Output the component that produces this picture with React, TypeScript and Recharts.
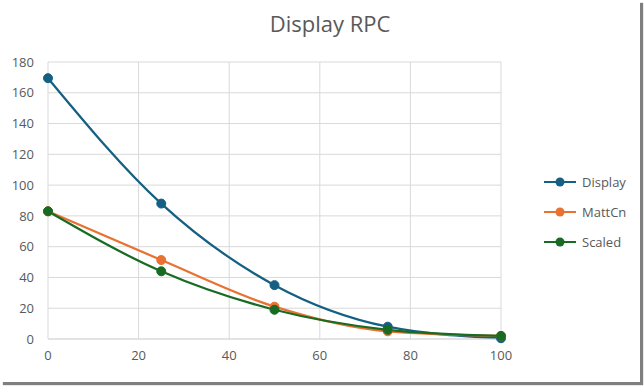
import { LineChart, Line, XAxis, YAxis, CartesianGrid, Legend } from "recharts";

const xValues = [0, 25, 50, 75, 100];
const displayValues = [169.5, 88, 35, 8, 0.5];
const mattCnValues = [83, 51.3, 21, 5, 2];
const scaledValues = [83, 44, 19, 6, 2];
const xTicks = [0, 20, 40, 60, 80, 100];
const yTicks = [0, 20, 40, 60, 80, 100, 120, 140, 160, 180];

const series = [
  { key: "display", name: "Display", color: "#156082" },
  { key: "mattcn", name: "MattCn", color: "#E97132" },
  { key: "scaled", name: "Scaled", color: "#196B24" },
];

const data = xValues.map((x, i) => ({
  x,
  display: displayValues[i],
  mattcn: mattCnValues[i],
  scaled: scaledValues[i],
}));

const FONT = "'Open Sans', 'Liberation Sans', sans-serif";

// Excel-like legend: short line with a dot, label to the right
function LegendContent() {
  return (
    <div style={{ fontFamily: FONT, fontSize: 13, color: "#595959", width: 88 }}>
      {series.map((s) => (
        <div key={s.key} style={{ display: "flex", alignItems: "center", height: 30 }}>
          <svg width={34} height={12} style={{ marginRight: 5 }}>
            <line x1={1} y1={6} x2={33} y2={6} stroke={s.color} strokeWidth={2} />
            <circle cx={17} cy={6} r={4.5} fill={s.color} />
          </svg>
          <span>{s.name}</span>
        </div>
      ))}
    </div>
  );
}

export default function App() {
  return (
    <div
      style={{
        position: "absolute",
        left: 0,
        top: 0,
        width: 640,
        height: 382,
        background: "#fff",
        boxShadow: "3px 3px 1px #7f7f7f",
        fontFamily: FONT,
      }}
    >
      <div
        style={{
          position: "absolute",
          top: 8,
          left: 10,
          width: 640,
          textAlign: "center",
          fontSize: 22,
          color: "#595959",
        }}
      >
        Display RPC
      </div>
      <LineChart
        width={640}
        height={382}
        data={data}
        margin={{ top: 62, right: 51, bottom: 13, left: 0 }}
      >
        <CartesianGrid stroke="#d9d9d9" />
        <XAxis
          dataKey="x"
          type="number"
          domain={[0, 100]}
          ticks={xTicks}
          tick={{ fontSize: 13, fill: "#595959", fontFamily: FONT }}
          axisLine={{ stroke: "#d9d9d9" }}
          tickLine={false}
          height={30}
          tickMargin={6}
        />
        <YAxis
          type="number"
          domain={[0, 180]}
          ticks={yTicks}
          tick={{ fontSize: 13, fill: "#595959", fontFamily: FONT }}
          axisLine={false}
          tickLine={false}
          width={48}
          tickMargin={8}
        />
        <Legend
          layout="vertical"
          align="right"
          verticalAlign="middle"
          content={<LegendContent />}
          wrapperStyle={{ right: 9, top: 167 }}
        />
        {series.map((s) => (
          <Line
            key={s.key}
            type="monotone"
            dataKey={s.key}
            name={s.name}
            stroke={s.color}
            strokeWidth={2.25}
            dot={{ r: 4.5, fill: s.color, stroke: s.color, strokeWidth: 1 }}
            isAnimationActive={false}
          />
        ))}
      </LineChart>
    </div>
  );
}
